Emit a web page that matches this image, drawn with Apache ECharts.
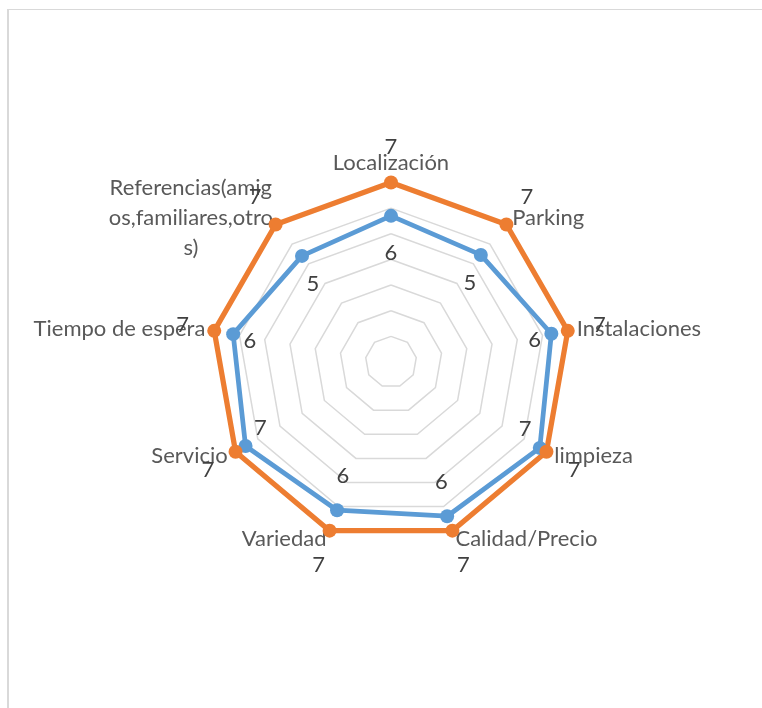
<!DOCTYPE html>
<html>
<head>
<meta charset="utf-8">
<title>Radar</title>
<script src="https://cdn.jsdelivr.net/npm/echarts@6/dist/echarts.min.js"></script>
<style>
    html, body {
        margin: 0;
        padding: 0;
        background: #fff;
        overflow: hidden;
    }
    .frame {
        position: absolute;
        left: 7px;
        top: 9px;
        width: 800px;
        height: 760px;
        border-left: 2px solid #d9d9d9;
        border-top: 1px solid #d9d9d9;
    }
    #chart {
        position: absolute;
        left: 0;
        top: 0;
        width: 762px;
        height: 708px;
    }
</style>
</head>
<body>
<div class="frame"></div>
<div id="chart"></div>
<script>
// categorias en el orden del dibujo (horario, empezando arriba)
const categories = [
    'Localización',
    'Parking',
    'Instalaciones',
    'limpieza',
    'Calidad/Precio',
    'Variedad',
    'Servicio',
    'Tiempo de espera',
    'Referencias(amigos,familiares,otros)'
]
// serie azul (valoracion) y naranja (importancia)
const blueValues = [5.7, 5.45, 6.35, 6.7, 6.4, 6.15, 6.55, 6.25, 5.4]
const orangeValues = [7, 7, 7, 7, 7, 7, 7, 7, 7]
const axisMin = 0
const axisMax = 7

// como se parte el nombre largo en lineas
const wrapped = {
    'Referencias(amigos,familiares,otros)': ['Referencias(amig', 'os,familiares,otro', 's)']
}

const CX = 391, CY = 362
const FONT = 'Lato'

// echarts pone los indicadores en sentido antihorario -> reordenar
const order = [0].concat(categories.map((c, i) => i).slice(1).reverse())
const indicators = order.map(i => ({ name: categories[i], min: axisMin, max: axisMax }))
const pick = arr => order.map(i => arr[i])

const chart = echarts.init(document.getElementById('chart'))

const option = {
    animation: false,
    radar: {
        center: [CX, CY],
        radius: 179.5,
        startAngle: 90,
        shape: 'polygon',
        splitNumber: 7,
        nameGap: 9,
        indicator: indicators,
        axisName: {
            color: '#595959',
            fontFamily: FONT,
            fontSize: 22,
            formatter: function (name) {
                if (wrapped[name]) {
                    return wrapped[name].map(s => '{w|' + s + '}').join('\n')
                }
                return name
            },
            rich: {
                w: {
                    width: 158,
                    align: 'center',
                    color: '#595959',
                    fontFamily: FONT,
                    fontSize: 22,
                    lineHeight: 30
                }
            }
        },
        axisLine: { show: false },
        axisTick: { show: false },
        axisLabel: { show: false },
        splitArea: { show: false },
        splitLine: {
            lineStyle: { color: '#d9d9d9', width: 1.5 }
        }
    },
    series: [
        {
            type: 'radar',
            symbol: 'circle',
            symbolSize: 14,
            label: {
                show: true,
                position: 'inside',
                color: '#404040',
                fontFamily: FONT,
                fontSize: 22,
                formatter: p => Math.round(p.value)
            },
            // etiquetas azules hacia dentro, naranjas hacia fuera
            labelLayout: function (params) {
                const r = params.rect
                const px = r.x + r.width / 2
                const py = r.y + r.height / 2
                const d = Math.hypot(px - CX, py - CY) || 1
                const ux = (px - CX) / d, uy = (py - CY) / d
                const k = params.dataIndex === 0 ? [-17, -37] : [32, 36]
                return {
                    x: px + ux * k[0],
                    y: py + uy * k[1],
                    align: 'center',
                    verticalAlign: 'middle'
                }
            },
            data: [
                {
                    value: pick(blueValues),
                    name: 'azul',
                    itemStyle: { color: '#5b9bd5' },
                    lineStyle: { color: '#5b9bd5', width: 4.75 }
                },
                {
                    value: pick(orangeValues),
                    name: 'naranja',
                    itemStyle: { color: '#ed7d31' },
                    lineStyle: { color: '#ed7d31', width: 5.25 }
                }
            ]
        }
    ]
}

chart.setOption(option)
</script>
</body>
</html>
